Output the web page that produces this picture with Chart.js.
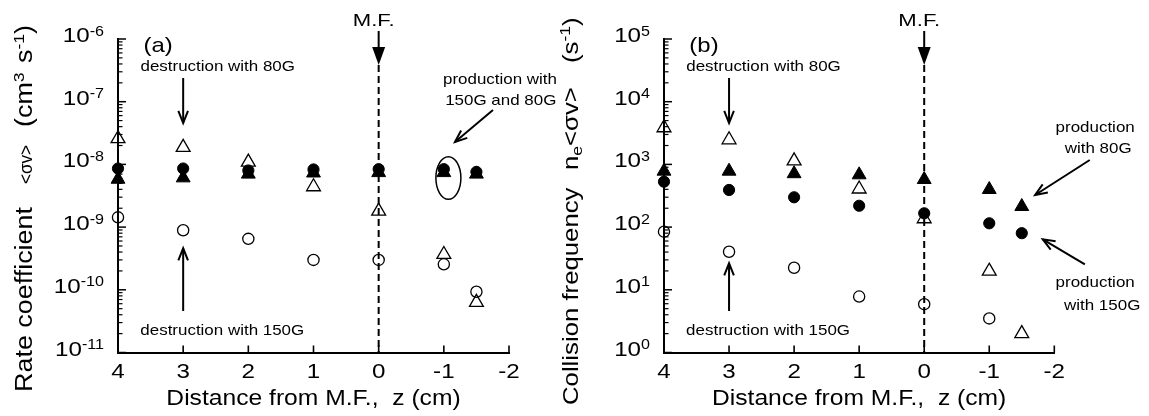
<!DOCTYPE html>
<html><head><meta charset="utf-8">
<script src="https://cdn.jsdelivr.net/npm/chart.js@4.4.1/dist/chart.umd.min.js"></script>
<style>
html,body{margin:0;padding:0;background:#fff;width:1149px;height:416px;overflow:hidden}
#wa{position:absolute;left:0;top:0;width:574px;height:416px}
#wb{position:absolute;left:540px;top:0;width:609px;height:416px}
</style></head><body>
<div id="wa"><canvas id="ca" width="574" height="416"></canvas></div>
<div id="wb"><canvas id="cb" width="609" height="416"></canvas></div>
<script>
// ---- data ----
const zPositions = [4, 3, 2, 1, 0, -1, -1.5];
const xTickValues = [4, 3, 2, 1, 0, -1, -2];
const xTickLabels = ['4', '3', '2', '1', '0', '-1', '-2'];
const yExpA = [-6, -7, -8, -9, -10, -11];
const yExpB = [5, 4, 3, 2, 1, 0];

// panel (a): rate coefficient <σv> (cm^3 s^-1)
const aFilledCircle   = [8.6e-9, 8.6e-9, 8.0e-9, 8.3e-9, 8.4e-9, 8.4e-9, 7.6e-9];
const aFilledTriangle = [5.8e-9, 6.1e-9, 7.0e-9, 7.3e-9, 7.4e-9, 7.4e-9, 7.0e-9];
const aOpenCircle     = [1.43e-9, 8.9e-10, 6.5e-10, 3.0e-10, 3.0e-10, 2.55e-10, 9.3e-11];
const aOpenTriangle   = [2.57e-8, 1.87e-8, 1.09e-8, 4.4e-9, 1.8e-9, 3.66e-10, 6.3e-11];

// panel (b): collision frequency n_e<σv> (s^-1)
const bFilledCircle   = [530, 391, 299, 219, 166, 115, 80];
const bFilledTriangle = [780, 780, 711, 682, 574, 398, 213];
const bOpenCircle     = [84.5, 40.5, 22.5, 7.8, 5.9, 3.5];
const bOpenTriangle   = [3840, 2470, 1140, 405, 136, 19.8, 2.0];

// ---- helpers ----
const FONT = '"Liberation Sans", Arial, Helvetica, sans-serif';
Chart.defaults.font.family = FONT;

function pts(values) { return values.map((v, i) => ({x: zPositions[i], y: v})); }
const styleFC = {pointStyle: 'circle', pointRadius: 5.6, pointBackgroundColor: '#000', pointBorderColor: '#000', pointBorderWidth: 1};
const styleFT = {pointStyle: 'triangle', pointRadius: 8, pointBackgroundColor: '#000', pointBorderColor: '#000', pointBorderWidth: 1};
const styleOC = {pointStyle: 'circle', pointRadius: 5.6, pointBackgroundColor: 'rgba(255,255,255,0)', pointBorderColor: '#000', pointBorderWidth: 1.3};
const styleOT = {pointStyle: 'triangle', pointRadius: 8, pointBackgroundColor: 'rgba(255,255,255,0)', pointBorderColor: '#000', pointBorderWidth: 1.3};
function ds(label, values, style) {
  return Object.assign({label, data: pts(values), showLine: false, clip: false}, style);
}

function segsWidth(ctx, segs) {
  let w = 0;
  for (const s of segs) { ctx.font = s.size + 'px ' + FONT; w += ctx.measureText(s.t).width; }
  return w;
}
function text(ctx, segs, x, y, sx, align, rot) {
  ctx.save();
  ctx.translate(x, y);
  if (rot) ctx.rotate(rot);
  ctx.scale(sx, 1);
  const w = segsWidth(ctx, segs);
  const off = align === 'center' ? -w / 2 : (align === 'right' ? -w : 0);
  ctx.fillStyle = '#000'; ctx.textAlign = 'left'; ctx.textBaseline = 'alphabetic';
  let cx = off;
  for (const s of segs) {
    ctx.font = s.size + 'px ' + FONT;
    ctx.fillText(s.t, cx, s.dy || 0);
    cx += ctx.measureText(s.t).width;
  }
  ctx.restore();
}
function line(ctx, x1, y1, x2, y2, w) {
  ctx.save(); ctx.strokeStyle = '#000'; ctx.lineWidth = w; ctx.lineCap = 'butt';
  ctx.beginPath(); ctx.moveTo(x1, y1); ctx.lineTo(x2, y2); ctx.stroke(); ctx.restore();
}
function arrowV(ctx, x1, y1, x2, y2) {
  const len = 13, ang = 0.38;
  line(ctx, x1, y1, x2, y2, 2);
  const a = Math.atan2(y2 - y1, x2 - x1);
  ctx.save(); ctx.strokeStyle = '#000'; ctx.lineWidth = 2; ctx.lineJoin = 'miter';
  ctx.beginPath();
  ctx.moveTo(x2 - len * Math.cos(a - ang), y2 - len * Math.sin(a - ang));
  ctx.lineTo(x2, y2);
  ctx.lineTo(x2 - len * Math.cos(a + ang), y2 - len * Math.sin(a + ang));
  ctx.stroke(); ctx.restore();
}

function makePanel(id, cfg) {
  const plugin = {
    id: 'deco_' + id,
    afterDraw(chart) {
      const ctx = chart.ctx, xs = chart.scales.x, ys = chart.scales.y, ca = chart.chartArea;
      const X = v => xs.getPixelForValue(v);
      // y ticks (inward) + labels
      cfg.exps.forEach(e => {
        const y = ys.getPixelForValue(Math.pow(10, e));
        line(ctx, ca.left, y, ca.left + 8, y, 1.5);
        if (e !== cfg.exps[0]) {
          for (let m = 2; m <= 9; m++) {
            const ym = ys.getPixelForValue(m * Math.pow(10, e));
            line(ctx, ca.left, ym, ca.left + 4.5, ym, 1.2);
          }
        }
        text(ctx, [{t: '10', size: 21}, {t: String(e), size: 14, dy: -6.5}], ca.left - 14, y + 3, 1.15, 'right');
      });
      // x ticks (inward) + labels
      xTickValues.forEach((v, i) => {
        const x = X(v);
        line(ctx, x, ca.bottom, x, ca.bottom - 7, 1.6);
        text(ctx, [{t: xTickLabels[i], size: 21}], x, ca.bottom + 25, 1.15, 'center');
      });
      // x title
      text(ctx, [{t: 'Distance from M.F.,  z (cm)', size: 22}], (ca.left + ca.right) / 2, 405, 1.12, 'center');
      // y title (rotated)
      const bx = ca.left - 86;
      cfg.yTitle.forEach(g => text(ctx, g.segs, bx, g.start, g.sx, 'left', -Math.PI / 2));
      // panel label
      text(ctx, [{t: cfg.label, size: 21}], X(3.61), 51.7, 1.14, 'left');
      // destruction annotations
      text(ctx, [{t: 'destruction with 80G', size: 15}], X(2.47), 70.7, 1.13, 'center');
      arrowV(ctx, X(3), 78, X(3), 123);
      text(ctx, [{t: 'destruction with 150G', size: 15}], X(2.40), 335, 1.13, 'center');
      arrowV(ctx, X(3), 311, X(3), cfg.upTip);
      // M.F. marker
      const x0 = X(0);
      text(ctx, [{t: 'M.F.', size: 17}], x0 - 5, 25.5, 1.3, 'center');
      line(ctx, x0, 31, x0, 50, 2);
      ctx.save(); ctx.fillStyle = '#000'; ctx.beginPath();
      ctx.moveTo(x0 - 6.5, 47); ctx.lineTo(x0 + 6.5, 47); ctx.lineTo(x0, 65); ctx.closePath(); ctx.fill(); ctx.restore();
      ctx.save(); ctx.strokeStyle = '#000'; ctx.lineWidth = 2; ctx.setLineDash([7, 4]);
      ctx.beginPath(); ctx.moveTo(x0, 65); ctx.lineTo(x0, ca.bottom); ctx.stroke(); ctx.restore();
      cfg.extra(ctx, X, ca);
    }
  };
  return new Chart(document.getElementById(id), {
    type: 'scatter',
    data: {datasets: cfg.datasets},
    options: {
      responsive: false, animation: false, events: [],
      layout: {padding: cfg.pad, autoPadding: false},
      plugins: {legend: {display: false}, tooltip: {enabled: false}},
      scales: {
        x: {type: 'linear', min: -2, max: 4, reverse: true,
            grid: {display: false, drawTicks: false}, ticks: {display: false},
            border: {display: true, color: '#000', width: 2},
            afterFit(s) { s.height = 0; }},
        y: {type: 'logarithmic', min: cfg.yMin, max: cfg.yMax,
            grid: {display: false, drawTicks: false}, ticks: {display: false},
            border: {display: true, color: '#000', width: 2},
            afterFit(s) { s.width = 0; }}
      }
    },
    plugins: [plugin]
  });
}

makePanel('ca', {
  yMin: 1e-11, yMax: 1e-6, exps: yExpA, label: '(a)', upTip: 248.3,
  pad: {left: 118, right: 65, top: 39, bottom: 63.5},
  datasets: [
    ds('filled circle', aFilledCircle, styleFC),
    ds('filled triangle', aFilledTriangle, styleFT),
    ds('open circle', aOpenCircle, styleOC),
    ds('open triangle', aOpenTriangle, styleOT)
  ],
  yTitle: [
    {start: 392, sx: 1.17, segs: [{t: 'Rate coefficient', size: 23}]},
    {start: 184, sx: 0.9, segs: [{t: '<σv>', size: 19}]},
    {start: 127, sx: 1.17, segs: [{t: '(cm', size: 23}, {t: '3', size: 15, dy: -8}]},
    {start: 63, sx: 1.17, segs: [{t: 's', size: 23}, {t: '-1', size: 15, dy: -8}, {t: ')', size: 23}]}
  ],
  extra(ctx, X, ca) {
    text(ctx, [{t: 'production with', size: 15}], X(-1.862), 83.5, 1.13, 'center');
    text(ctx, [{t: '150G and 80G', size: 15}], X(-1.874), 104.5, 1.13, 'center');
    arrowV(ctx, X(-1.754), 110, X(-1.171), 142);
    ctx.save(); ctx.strokeStyle = '#000'; ctx.lineWidth = 1.5; ctx.beginPath();
    ctx.ellipse(X(-1.07), 178, 12.5, 21.3, 0, 0, Math.PI * 2); ctx.stroke(); ctx.restore();
  }
});

makePanel('cb', {
  yMin: 1, yMax: 1e5, exps: yExpB, label: '(b)', upTip: 263.3,
  pad: {left: 124, right: 94.7, top: 39, bottom: 63.5},
  datasets: [
    ds('filled circle', bFilledCircle, styleFC),
    ds('filled triangle', bFilledTriangle, styleFT),
    ds('open circle', bOpenCircle, styleOC),
    ds('open triangle', bOpenTriangle, styleOT)
  ],
  yTitle: [
    {start: 405, sx: 1.17, segs: [{t: 'Collision frequency', size: 22}]},
    {start: 170, sx: 1.17, segs: [{t: 'n', size: 22}, {t: 'e', size: 15, dy: 4}, {t: '<σv>', size: 22}]},
    {start: 63, sx: 1.17, segs: [{t: '(s', size: 22}, {t: '-1', size: 15, dy: -8}, {t: ')', size: 22}]}
  ],
  extra(ctx, X, ca) {
    text(ctx, [{t: 'production', size: 15}], X(-2.628), 132, 1.13, 'center');
    text(ctx, [{t: 'with 80G', size: 15}], X(-2.674), 153, 1.13, 'center');
    arrowV(ctx, X(-2.545), 160, X(-1.705), 195);
    text(ctx, [{t: 'production', size: 15}], X(-2.628), 286.5, 1.13, 'center');
    text(ctx, [{t: 'with 150G', size: 15}], X(-2.736), 310, 1.13, 'center');
    arrowV(ctx, X(-2.47), 264.3, X(-1.823), 239.3);
  }
});
</script>
</body></html>
